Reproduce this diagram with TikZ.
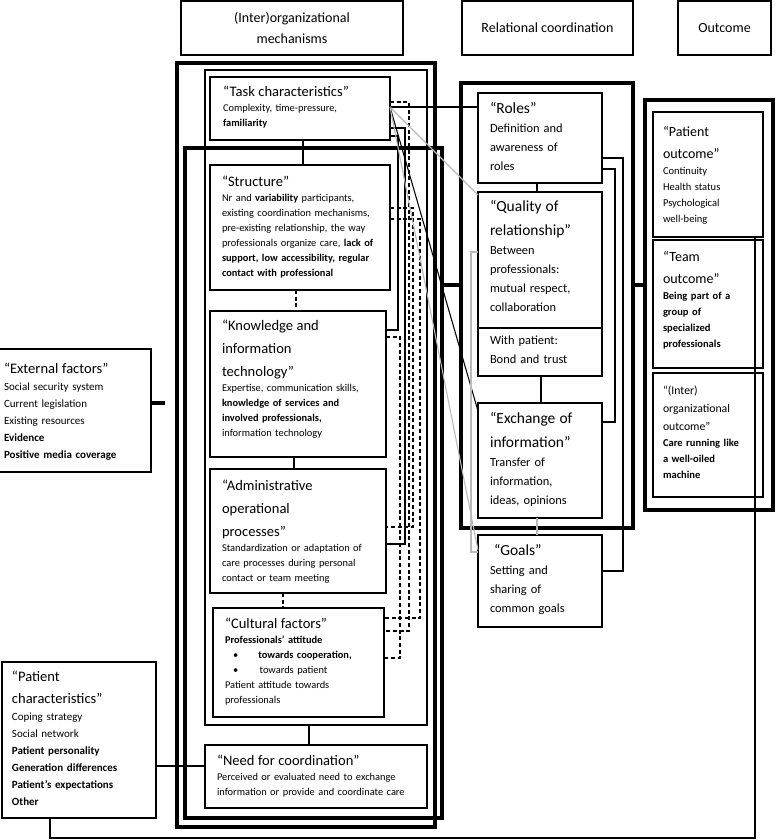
\documentclass[tikz,border=0pt]{standalone}
\usepackage{fontspec}
\setmainfont{Carlito}
\newcommand\mechhead{\fontsize{10.9}{17.25}\selectfont}
\newcommand\mechbody{\fontsize{7.8}{11.25}\selectfont}
\newcommand\relhead{\fontsize{11.6}{18}\selectfont}
\newcommand\relbody{\fontsize{9.3}{14.25}\selectfont}
\newcommand\outhead{\fontsize{10.5}{16.5}\selectfont}
\newcommand\outbody{\fontsize{7.9}{12}\selectfont}
\newcommand\orghead{\fontsize{8.8}{13.5}\selectfont}
\newcommand\sidehead{\fontsize{10.9}{16.5}\selectfont}
\newcommand\sidebody{\fontsize{8.25}{12.75}\selectfont}
\newcommand\colhead{\fontsize{10.5}{15.75}\selectfont}
\tikzset{
  sz/.style 2 args={minimum width=#1*0.75pt,minimum height=#2*0.75pt},
  bx/.style={draw,line width=1pt,inner sep=0pt,outer sep=0pt,anchor=north west},
  thkbx/.style={bx,line width=3pt},
  midbx/.style={bx,line width=1.6pt},
  hdbx/.style={bx,align=center,font=\colhead},
  txt/.style={inner sep=0pt,outer sep=0pt,anchor=north west,align=left},
  ln/.style={line width=0.8pt},
  dln/.style={ln,dash pattern=on 3pt off 2pt},
  gln/.style={ln,gray!55},
  thkln/.style={line width=3pt}
}
\begin{document}
\begin{tikzpicture}[x=0.75pt,y=-0.75pt]
\useasboundingbox (0,0) rectangle (779,840);
\clip (0,0) rectangle (779,840);

% column heads
\node[hdbx,sz={222}{54}] (hmech) at (181,1) {(Inter)organizational\\mechanisms};
\node[hdbx,sz={171}{54}] (hrel) at (462,1) {Relational coordination};
\node[hdbx,sz={93}{54}] (hout) at (678,1) {Outcome};

% mechanisms
\node[thkbx,sz={258}{764}] (grpA) at (177,63) {};
\node[midbx,sz={222}{655}] (grpB) at (205,70) {};
\node[thkbx,sz={257}{670}] (grpC) at (185,148) {};
\node[bx,sz={180}{63}] (task) at (210,77) {};
\node[bx,sz={180}{125}] (struct) at (210,165) {};
\node[bx,sz={176}{146}] (know) at (210,311) {};
\node[bx,sz={176}{124}] (admin) at (210,469) {};
\node[bx,sz={171}{109}] (cult) at (213,608) {};
\node[midbx,sz={222}{63}] (need) at (205,745) {};

\node[txt,text width=125pt,font=\mechbody] (tasktx) at ([shift={(13,9)}]task.north west)
  {{\mechhead “Task characteristics”\par}Complexity, time-pressure,\\\textbf{familiarity}};
\node[txt,text width=125pt,font=\mechbody] (structtx) at ([shift={(12,11)}]struct.north west)
  {{\mechhead “Structure”\par}Nr and \textbf{variability} participants,\\
   existing coordination mechanisms,\\
   pre-existing relationship, the way\\
   professionals organize care, \textbf{lack of}\\
   {\bfseries support, low accessibility, regular\\
   contact with professional}};
\node[txt,text width=125pt,font=\mechbody] (knowtx) at ([shift={(12,9)}]know.north west)
  {{\mechhead “Knowledge and\\information\\technology”\par}Expertise, communication skills,\\
   {\bfseries knowledge of services and\\involved professionals,}\\
   information technology};
\node[txt,text width=125pt,font=\mechbody] (admintx) at ([shift={(12,11)}]admin.north west)
  {{\mechhead “Administrative\\operational\\processes”\par}Standardization or adaptation of\\
   care processes during personal\\contact or team meeting};
\node[txt,text width=125pt,font=\mechbody] (culttx) at ([shift={(12,10)}]cult.north west)
  {{\mechhead “Cultural factors”\par}\textbf{Professionals’ attitude}\\
   \makebox[25pt][l]{\hspace{6pt}\textbullet}\textbf{towards cooperation,}\\
   \makebox[26pt][l]{\hspace{6pt}\textbullet}towards patient\\
   Patient attitude towards\\professionals};
\node[txt,text width=160pt,font=\mechbody] (needtx) at ([shift={(12,10)}]need.north west)
  {{\mechhead “Need for coordination”\par}Perceived or evaluated need to exchange\\
   information or provide and coordinate care};

% relational coordination
\node[thkbx,sz={172}{445}] (relbox) at (461,83) {};
\node[bx,sz={124}{90}] (roles) at (478,93) {};
\node[bx,sz={124}{184}] (quality) at (478,192) {};
\node[bx,sz={124}{115}] (exch) at (478,403) {};
\node[bx,sz={124}{92}] (goals) at (478,535) {};
\draw[line width=1pt] ([shift={(0,136)}]quality.north west) -- ([shift={(0,136)}]quality.north east);

\node[txt,text width=88pt,font=\relbody] (rolestx) at ([shift={(12,9)}]roles.north west)
  {{\relhead “Roles”\par}Definition and\\awareness of\\roles};
\node[txt,text width=88pt,font=\relbody] (qualtx) at ([shift={(12,8)}]quality.north west)
  {{\relhead “Quality of\\relationship”\par}Between\\professionals:\\mutual respect,\\collaboration};
\node[txt,text width=88pt,font=\relbody] (pattx) at ([shift={(12,144)}]quality.north west)
  {With patient:\\Bond and trust};
\node[txt,text width=88pt,font=\relbody] (exchtx) at ([shift={(12,9)}]exch.north west)
  {{\relhead “Exchange of\\information”\par}Transfer of\\information,\\ideas, opinions};
\node[txt,text width=88pt,font=\relbody] (goalstx) at ([shift={(12,9)}]goals.north west)
  {{\relhead\ “Goals”\par}Setting and\\sharing of\\common goals};

% outcome
\node[thkbx,sz={128}{410}] (outbox) at (645,100) {};
\node[bx,sz={110}{125}] (pout) at (653,112) {};
\node[bx,sz={110}{128}] (tout) at (653,240) {};
\node[bx,sz={110}{124}] (oout) at (653,373) {};

\node[txt,text width=76pt,font=\outbody] (pouttx) at ([shift={(10,14)}]pout.north west)
  {{\outhead “Patient\\outcome”\par}Continuity\\Health status\\Psychological\\well-being};
\node[txt,text width=76pt,font=\outbody] (touttx) at ([shift={(10,11)}]tout.north west)
  {{\outhead “Team\\outcome”\par}{\bfseries Being part of a\\group of\\specialized\\professionals}};
\node[txt,text width=76pt,font=\outbody] (oouttx) at ([shift={(10,13)}]oout.north west)
  {{\orghead “(Inter)\\organizational\\outcome”\par}{\bfseries Care running like\\a well-oiled\\machine}};

% side factors
\node[bx,sz={156}{123}] (ext) at (-5,349) {};
\node[bx,sz={154}{156}] (pchar) at (2,662) {};
\node[txt,text width=110pt,font=\sidebody] (exttx) at ([shift={(9,14)}]ext.north west)
  {{\sidehead “External factors”\par}Social security system\\Current legislation\\Existing resources\\
   {\bfseries Evidence\\Positive media coverage}};
\node[txt,text width=110pt,font=\sidebody] (pchartx) at ([shift={(10,9)}]pchar.north west)
  {{\sidehead “Patient\\characteristics”\par}Coping strategy\\Social network\\
   {\bfseries Patient personality\\Generation differences\\Patient’s expectations\\Other}};

% links inside the mechanisms column
\draw[ln] ([shift={(93,0)}]task.south west) -- ([shift={(93,0)}]struct.north west);
\draw[dln] ([shift={(86,0)}]struct.south west) -- ([shift={(86,0)}]know.north west);
\draw[ln] ([shift={(84,0)}]know.south west) -- ([shift={(84,0)}]admin.north west);
\draw[dln] ([shift={(73,0)}]admin.south west) -- ([shift={(70,0)}]cult.north west);
\draw[line width=2pt] ([shift={(104,0)}]grpB.south west) -- ([shift={(104,0)}]need.north west);

\draw[dln] ([shift={(0,25)}]task.north east) -- ++(19,0) |- ([shift={(0,23)}]cult.north east);
\draw[ln] ([shift={(0,51)}]task.north east) -- ++(15,0) |- ([shift={(0,75)}]admin.north east);
\draw[ln] ([shift={(0,59)}]task.north east) -- ++(8,0) |- ([shift={(0,19)}]know.north east);
\draw[dln] ([shift={(0,43)}]struct.north east) -- ++(23,0) |- ([shift={(0,58)}]admin.north east);
\draw[dln] ([shift={(0,54)}]struct.north east) -- ++(30,0) |- ([shift={(0,10)}]cult.north east);
\draw[dln] ([shift={(0,26)}]know.north east) -- ++(14,0) |- ([shift={(0,50)}]cult.north east);

% links to relational coordination
\draw[ln] ([shift={(0,30)}]task.north east) -- ([shift={(0,14)}]roles.north west);
\draw[gln] ([shift={(0,30)}]task.north east) -- ([shift={(0,3)}]quality.north west);
\draw[ln] ([shift={(0,30)}]task.north east) -- ([shift={(0,8)}]exch.north west);
\draw[gln] ([shift={(0,30)}]task.north east) -- ([shift={(0,15)}]goals.north west);

% links inside the relational column
\draw[ln] ([shift={(59,0)}]roles.south west) -- ([shift={(59,0)}]quality.north west);
\draw[ln] ([shift={(63,0)}]quality.south west) -- ([shift={(63,0)}]exch.north west);
\draw[gln] ([shift={(59,0)}]exch.south west) -- ([shift={(59,0)}]goals.north west);
\draw[gln] ([shift={(0,60)}]quality.north west) -- ++(-7,0) |- ([shift={(0,17)}]goals.north west);
\draw[ln] ([shift={(0,65)}]roles.north east) -- ++(21,0) |- ([shift={(0,36)}]goals.north east);
\draw[ln] ([shift={(0,76)}]roles.north east) -- ++(13,0) |- ([shift={(0,19)}]exch.north east);

% thick joins between columns
\draw[thkln] ([shift={(0,137)}]grpC.north east) -- ([shift={(0,202)}]relbox.north west);
\draw[thkln] ([shift={(0,202)}]relbox.north east) -- ([shift={(0,185)}]outbox.north west);
\draw[thkln] ([shift={(0,54)}]ext.north east) -- ++(14,0);

% patient characteristics
\draw[ln] ([shift={(0,104)}]pchar.north east) -- ([shift={(0,21)}]need.north west);
\draw[ln] ([shift={(48,0)}]pchar.south west) -- ++(0,20) -| ([shift={(102,0)}]pout.south west);
\end{tikzpicture}
\end{document}
